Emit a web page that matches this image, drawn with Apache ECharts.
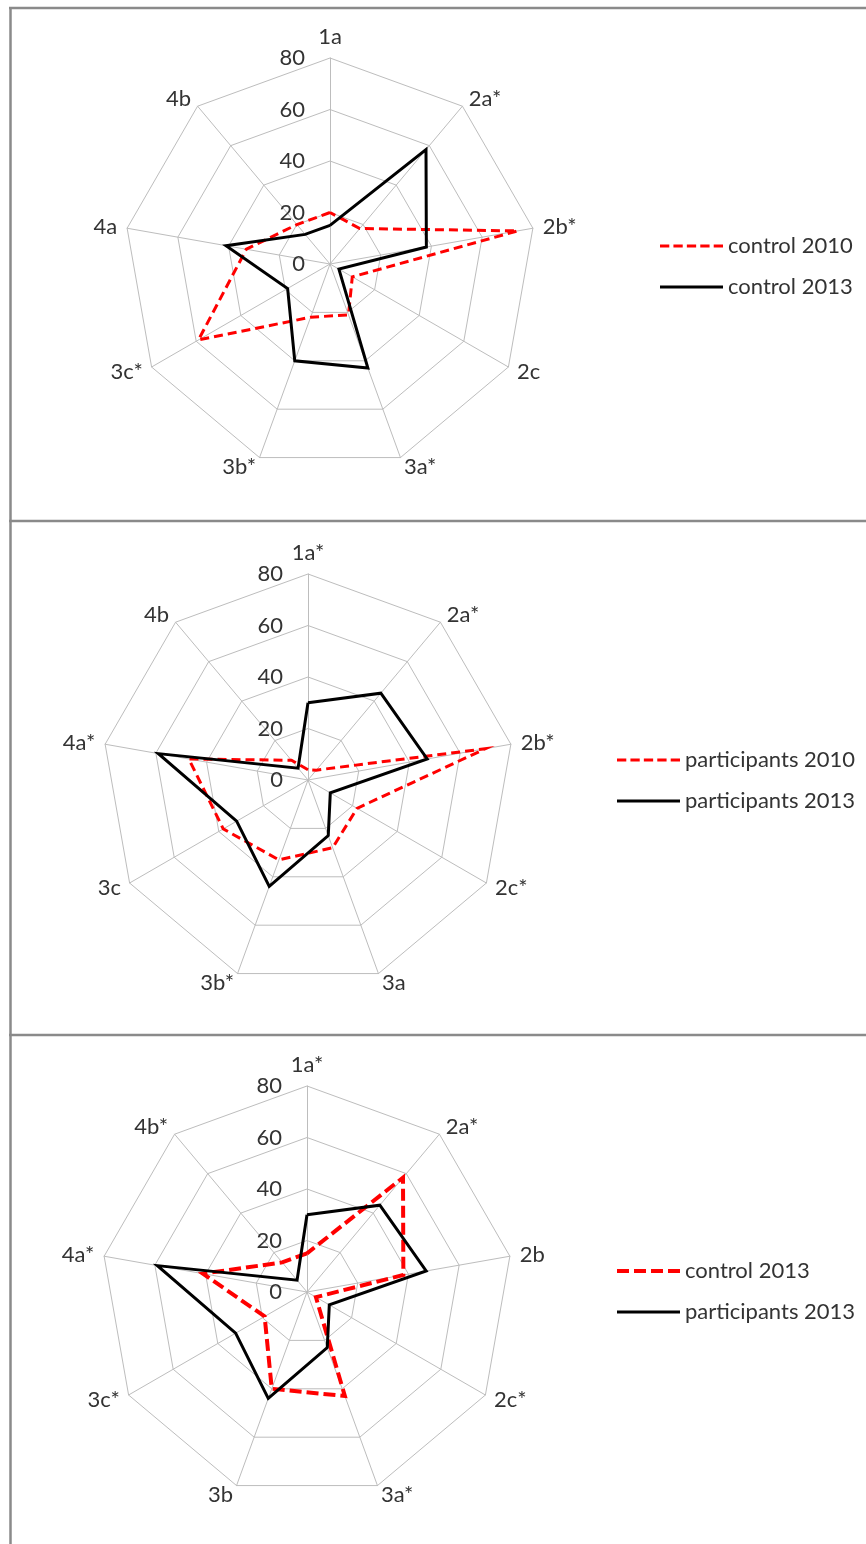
<!DOCTYPE html>
<html>
<head>
<meta charset="utf-8">
<script src="https://cdn.jsdelivr.net/npm/echarts@6/dist/echarts.min.js"></script>
<style>
  html, body { margin: 0; padding: 0; background: #ffffff; }
  #chart { width: 866px; height: 1544px; }
</style>
</head>
<body>
<div id="chart"></div>
<script>
// Indicator names of each panel, listed clockwise from the top
const axesControl = ['1a', '2a*', '2b*', '2c', '3a*', '3b*', '3c*', '4a', '4b'];
const axesParticipants = ['1a*', '2a*', '2b*', '2c*', '3a', '3b*', '3c', '4a*', '4b'];
const axesCompare2013 = ['1a*', '2a*', '2b', '2c*', '3a*', '3b', '3c*', '4a*', '4b*'];

// Radial tick labels
const tickLabels = [0, 20, 40, 60, 80];

// Scores per indicator (same clockwise order as the names above)
const control2010 = [20, 18, 74, 10, 21, 22, 59, 33, 20];
const control2013 = [15, 58, 38, 4, 43, 40, 19, 41, 15];
const participants2010 = [4, 5, 70, 22, 28, 33, 38, 47, 10];
const participants2013 = [30, 44, 47, 10, 23, 44, 32, 59, 6];

const FONT = 'Lato';
const TEXT = '#333333';
const GRID = '#bdbdbd';
const RED = '#ff0000';
const BLACK = '#000000';

// ECharts lays radar indicators out counter-clockwise; flip to clockwise order
const cw = arr => [arr[0]].concat(arr.slice(1).reverse());

function radarFor(axes, center) {
  return {
    center: center,
    radius: 206,
    startAngle: 90,
    shape: 'polygon',
    splitNumber: tickLabels.length - 1,
    indicator: cw(axes).map((name, i) => ({
      name: name,
      min: tickLabels[0],
      max: tickLabels[tickLabels.length - 1],
      axisLabel: { show: i === 0 }
    })),
    nameGap: 10,
    axisName: { color: TEXT, fontSize: 22, fontFamily: FONT },
    axisLine: { lineStyle: { color: GRID, width: 1 } },
    splitLine: { lineStyle: { color: GRID, width: 1 } },
    splitArea: { show: false },
    axisTick: { show: false },
    axisLabel: { show: false, color: TEXT, fontSize: 22, fontFamily: FONT, margin: 25 }
  };
}

function seriesFor(radarIndex, name, values, color, width, dash, z) {
  return {
    type: 'radar',
    radarIndex: radarIndex,
    name: name,
    symbol: 'none',
    silent: true,
    z: z,
    lineStyle: { color: color, width: width, type: dash, join: 'miter' },
    itemStyle: { color: color },
    areaStyle: null,
    data: [{ name: name, value: cw(values) }]
  };
}

// Legend swatches: dashed and solid strokes drawn as small filled paths
const dashThin = 'path://M0,0h9v3h-9zM13,0h9v3h-9zM26,0h9v3h-9zM39,0h9v3h-9zM52,0h9v3h-9z';
const solidThin = 'path://M0,0h61v3h-61z';
const dashThick = 'path://M0,0h12v4h-12zM17,0h12v4h-12zM34,0h12v4h-12zM51,0h12v4h-12z';
const solidMid = 'path://M0,0h63v3h-63z';

function legendFor(left, top, items) {
  return {
    orient: 'vertical',
    left: left,
    top: top,
    itemWidth: 63,
    itemHeight: 4,
    itemGap: 19,
    selectedMode: false,
    textStyle: { color: TEXT, fontSize: 22, fontFamily: FONT, lineHeight: 22 },
    data: items.map(it => ({
      name: it.name,
      icon: it.icon,
      itemStyle: { color: it.color, borderWidth: 0 }
    }))
  };
}

const frame = { stroke: '#8a8a8a', lineWidth: 2.5 };

const chart = echarts.init(document.getElementById('chart'), null, { renderer: 'canvas' });
chart.setOption({
  animation: false,
  backgroundColor: '#ffffff',
  radar: [
    radarFor(axesControl, [330, 264]),
    radarFor(axesParticipants, [308, 780]),
    radarFor(axesCompare2013, [307, 1292])
  ],
  legend: [
    legendFor(655, 230, [
      { name: 'control 2010', icon: dashThin, color: RED },
      { name: 'control 2013', icon: solidThin, color: BLACK }
    ]),
    legendFor(612, 744, [
      { name: 'participants 2010', icon: dashThin, color: RED },
      { name: 'participants 2013', icon: solidThin, color: BLACK }
    ]),
    legendFor(612, 1255, [
      { name: 'control 2013', icon: dashThick, color: RED },
      { name: 'participants 2013', icon: solidMid, color: BLACK }
    ])
  ],
  series: [
    seriesFor(0, 'control 2010', control2010, RED, 3, [9, 5], 2),
    seriesFor(0, 'control 2013', control2013, BLACK, 3, 'solid', 3),
    seriesFor(1, 'participants 2010', participants2010, RED, 3, [9, 5], 2),
    seriesFor(1, 'participants 2013', participants2013, BLACK, 3, 'solid', 3),
    seriesFor(2, 'control 2013', control2013, RED, 4, [12, 5], 2),
    seriesFor(2, 'participants 2013', participants2013, BLACK, 3, 'solid', 3)
  ],
  graphic: [
    { type: 'line', shape: { x1: 9, y1: 8, x2: 866, y2: 8 }, style: frame },
    { type: 'line', shape: { x1: 10.5, y1: 7, x2: 10.5, y2: 1544 }, style: frame },
    { type: 'line', shape: { x1: 9, y1: 521, x2: 866, y2: 521 }, style: frame },
    { type: 'line', shape: { x1: 9, y1: 1035, x2: 866, y2: 1035 }, style: frame }
  ]
});
</script>
</body>
</html>
